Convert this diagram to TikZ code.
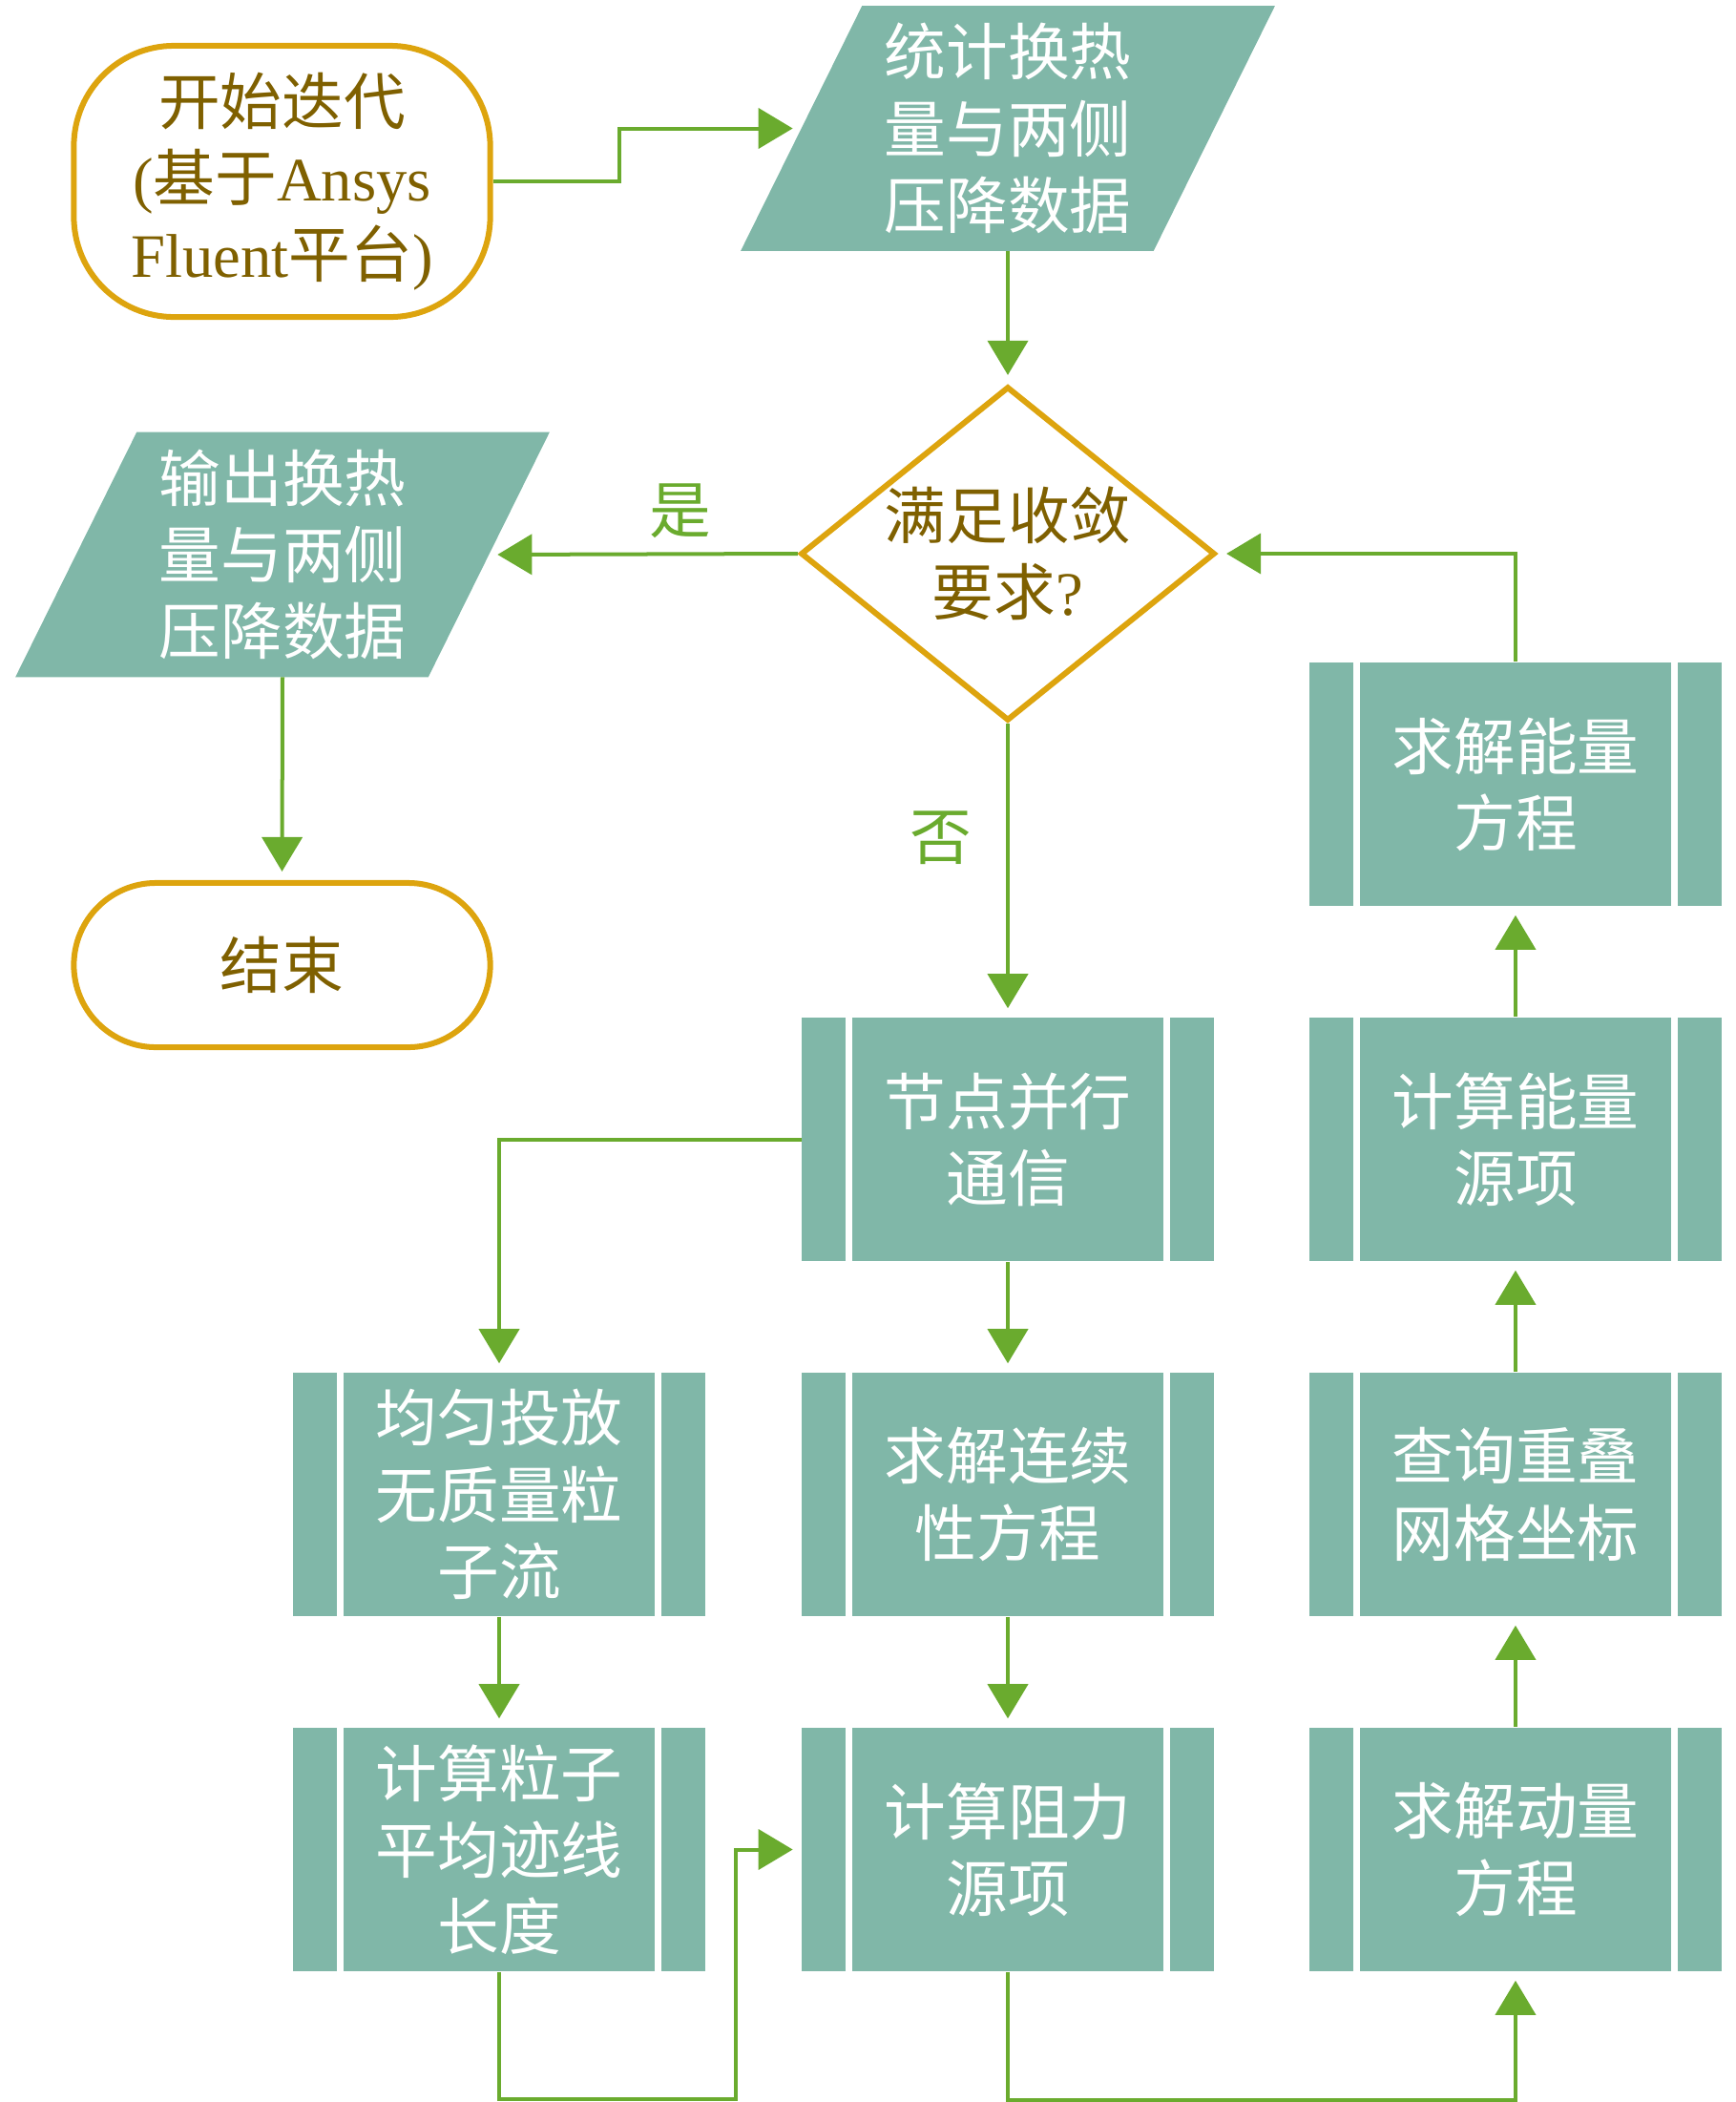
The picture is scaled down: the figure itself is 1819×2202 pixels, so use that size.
\documentclass[tikz,border=0pt]{standalone}
\usepackage{fontspec}
\setmainfont{Liberation Serif}
\newfontfamily\cjk{Noto Sans CJK SC}
\usetikzlibrary{arrows.meta}
\usetikzlibrary{shapes.geometric}
\usetikzlibrary{backgrounds}
\definecolor{flowteal}{RGB}{128,183,168}
\definecolor{flowgold}{RGB}{221,164,14}
\definecolor{flowbrown}{RGB}{127,96,0}
\definecolor{flowgreen}{RGB}{106,171,46}
\newcommand{\westtxt}[1]{{\rmfamily #1}}
\tikzset{
  txt/.style={font=\fontsize{18.4pt}{22.8pt}\selectfont\cjk, align=center, inner sep=0pt},
  term/.style={txt, rectangle, draw=flowgold, line width=0.06cm, text=flowbrown, minimum width=4.36cm},
  io/.style={txt, rectangle, text=white, minimum width=4.31cm, minimum height=2.55cm},
  iofill/.style={fill=flowteal},
  decide/.style={txt, diamond, draw=flowgold, line width=0.06cm, text=flowbrown, minimum width=4.34cm, minimum height=3.5cm, inner sep=-5mm},
  proc/.style={txt, rectangle, fill=flowteal, text=white, minimum width=4.31cm, minimum height=2.55cm,
    path picture={
      \draw[white, line width=0.07cm] ([xshift=0.495cm]path picture bounding box.north west) -- ([xshift=0.495cm]path picture bounding box.south west);
      \draw[white, line width=0.07cm] ([xshift=-0.495cm]path picture bounding box.north east) -- ([xshift=-0.495cm]path picture bounding box.south east);
    }},
  flow/.style={->, draw=flowgreen, line width=0.04cm, shorten >=0.09cm},
  flowtag/.style={txt, text=flowgreen}
}
\begin{document}
\begin{tikzpicture}[>={Triangle[length=3.6mm,width=4.2mm]},x=0.01cm,y=-0.01cm]
\useasboundingbox (0,0) rectangle (1819,2202);
% start, output and decision
\node[term, minimum height=2.84cm, rounded corners=1.05cm] (start) at (295.5,190) {开始迭代\\\westtxt{(}基于\westtxt{Ansys}\\\westtxt{Fluent}平台\westtxt{)}};
\node[io] (stat) at (1056,134.5) {统计换热\\量与两侧\\压降数据};
\node[decide] (dec) at (1056,580) {满足收敛\\要求\westtxt{?}};
\node[io] (out) at (296,581) {输出换热\\量与两侧\\压降数据};
\node[term, minimum height=1.72cm, rounded corners=0.86cm] (end) at (295.5,1011) {结束};
\begin{scope}[on background layer]
\foreach \n in {stat,out}
  \fill[iofill] ([xshift=0.635cm]\n.north west) -- ([xshift=0.635cm]\n.north east) -- ([xshift=-0.635cm]\n.south east) -- ([xshift=-0.635cm]\n.south west) -- cycle;
\end{scope}
% solver steps
\node[proc] (esolve) at (1588,821.5) {求解能量\\方程};
\node[proc] (comm) at (1056,1193.5) {节点并行\\通信};
\node[proc] (esrc) at (1588,1193.5) {计算能量\\源项};
\node[proc] (part) at (523,1565.5) {均匀投放\\无质量粒\\子流};
\node[proc] (cont) at (1056,1565.5) {求解连续\\性方程};
\node[proc] (grid) at (1588,1565.5) {查询重叠\\网格坐标};
\node[proc] (track) at (523,1937.5) {计算粒子\\平均迹线\\长度};
\node[proc] (drag) at (1056,1937.5) {计算阻力\\源项};
\node[proc] (mom) at (1588,1937.5) {求解动量\\方程};
\coordinate (bend) at (771,2199);
% connectors
\draw[flow] (start.east) -- ++(132,0) |- (stat.west);
\draw[flow] (stat.south) -- (dec.north);
\draw[flow] (dec.west) -- (out.east) node[flowtag, pos=0.38, above=0.15cm] {是};
\draw[flow] (out.south) -- (end.north);
\draw[flow] (dec.south) -- (comm.north) node[flowtag, pos=0.39, left=0.36cm] {否};
\draw[flow] (comm.west) -| (part.north);
\draw[flow] (comm.south) -- (cont.north);
\draw[flow] (cont.south) -- (drag.north);
\draw[flow] (part.south) -- (track.north);
\draw[flow] (track.south) |- (bend) |- (drag.west);
\draw[flow] (drag.south) -- ++(0,134) -| (mom.south);
\draw[flow] (mom.north) -- (grid.south);
\draw[flow] (grid.north) -- (esrc.south);
\draw[flow] (esrc.north) -- (esolve.south);
\draw[flow] (esolve.north) |- (dec.east);
\end{tikzpicture}
\end{document}
